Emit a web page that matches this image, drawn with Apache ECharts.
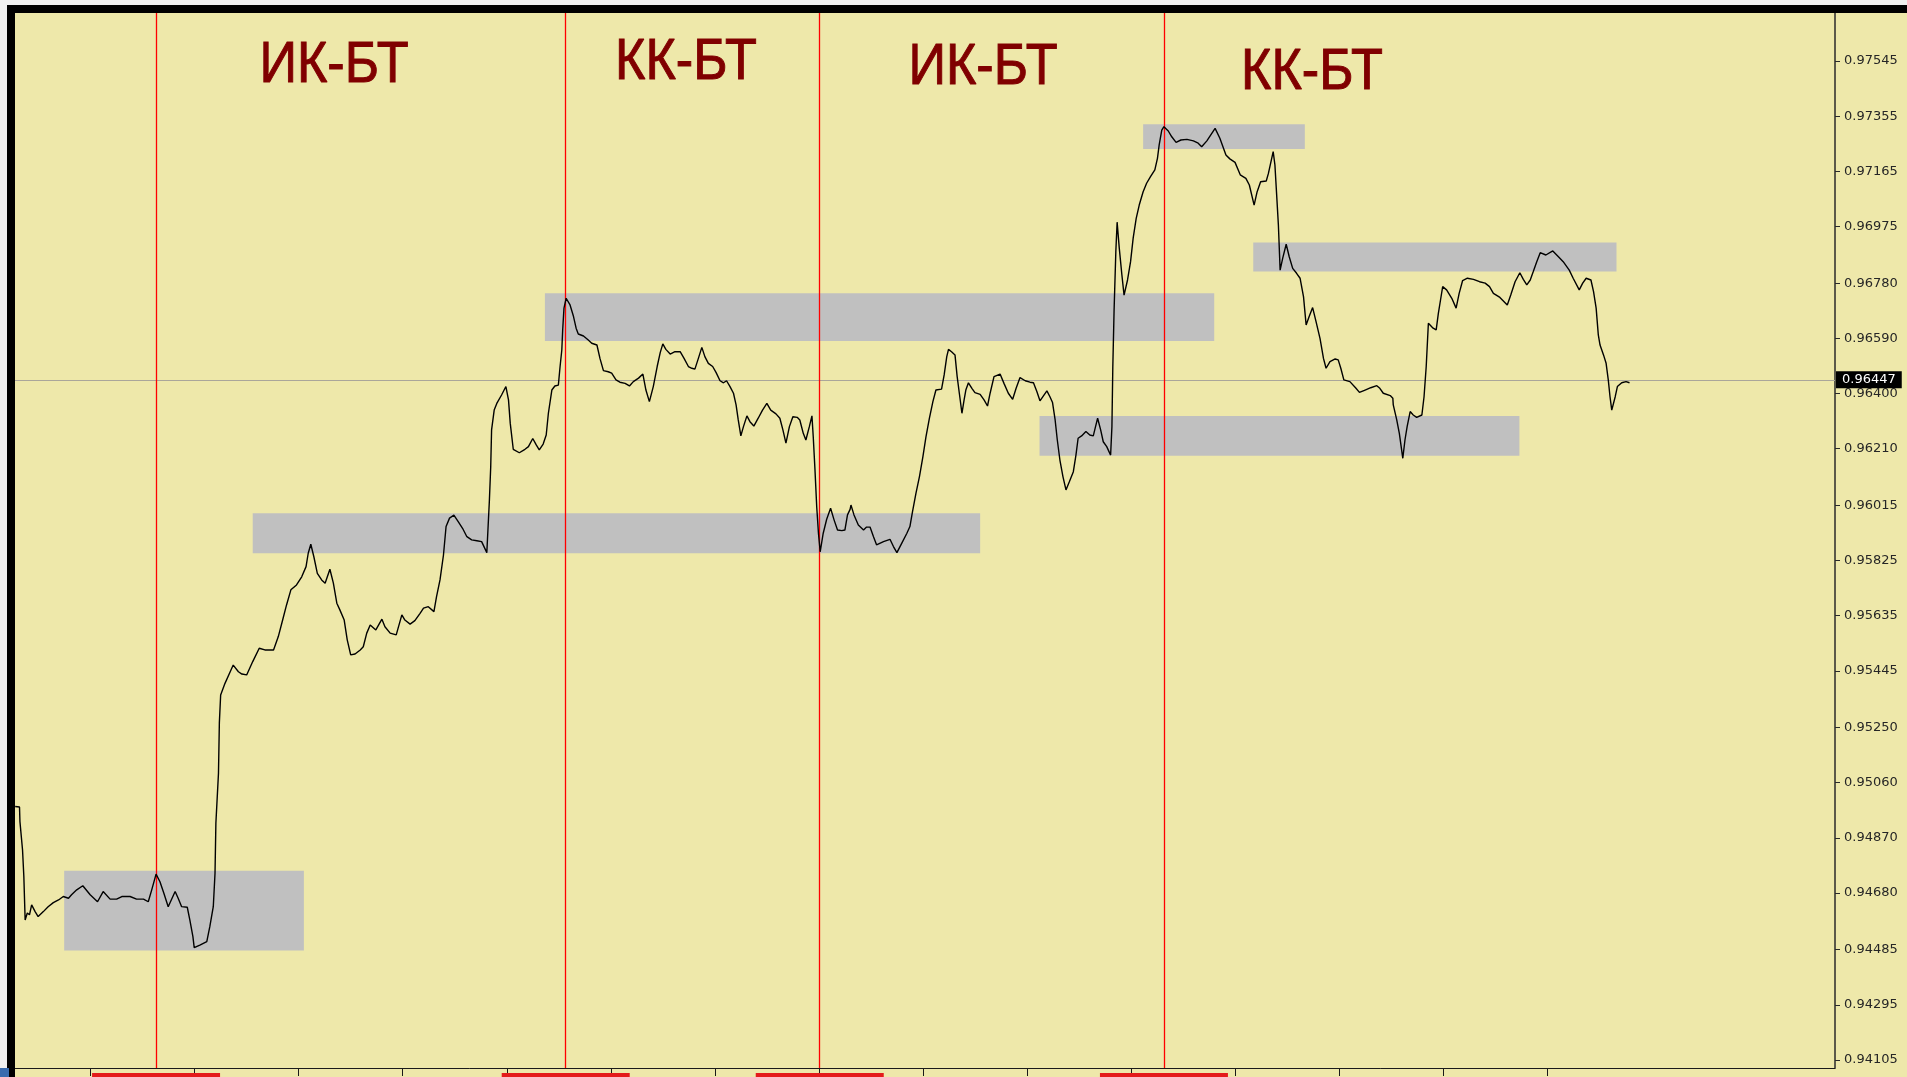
<!DOCTYPE html>
<html><head><meta charset="utf-8">
<script src="https://cdn.jsdelivr.net/npm/echarts@6/dist/echarts.min.js"></script>
<style>html,body{margin:0;padding:0;background:#EEE8AA;overflow:hidden}#c{width:1907px;height:1077px}</style>
</head><body><div id="c"></div>
<script>
// ---- data (hourly bar index, close price) ----
const barIndex = [6.6,7.6,7.7,8.3,8.6,8.9,9.4,9.9,10.4,11.2,11.9,13.1,14.2,15.4,16.6,17.7,18.9,19.6,20.8,22.2,
23.9,25.6,26.9,28.5,30.0,31.2,33.1,34.6,36.2,37.3,38.1,39.1,40.0,40.9,41.9,43.5,44.2,45.0,46.3,46.9,
47.6,47.9,49.2,50.8,51.5,52.3,52.7,52.9,53.5,53.7,54.0,55.0,56.2,56.9,58.1,58.9,60.0,61.4,62.9,64.2,
66.2,67.3,68.3,69.2,70.2,71.5,72.7,73.7,74.2,74.8,75.5,76.3,77.3,78.1,79.2,80.0,80.8,81.5,82.5,83.2,
84.0,85.0,86.2,86.9,87.7,88.5,89.8,91.2,91.9,93.1,94.5,95.8,96.5,97.7,98.8,100.0,100.8,101.9,103.2,103.8,
104.6,105.4,106.0,106.8,107.8,108.8,109.8,110.8,111.9,113.1,114.2,115.4,116.0,116.3,116.5,117.1,117.7,118.8,119.8,120.4,
120.8,121.5,122.9,124.2,125.0,126.0,126.8,127.5,128.4,129.1,129.6,130.4,131.1,131.9,132.3,132.7,132.9,133.2,133.7,134.6,
135.4,136.0,136.5,137.7,138.8,139.6,140.8,141.5,142.3,143.4,144.2,145.2,146.1,147.3,148.3,149.2,150.4,151.4,152.1,152.9,
153.8,154.7,155.4,156.0,156.7,157.7,158.8,160.0,160.9,161.9,162.7,163.4,164.2,165.0,165.7,166.5,167.5,168.3,169.2,170.0,
170.7,171.5,172.3,172.9,173.4,174.0,174.6,175.4,176.1,177.0,178.0,179.0,180.0,180.9,182.1,183.0,183.7,184.4,185.2,186.0,
187.0,187.6,188.4,189.0,189.8,190.4,190.7,191.1,191.5,191.9,192.3,193.0,193.8,194.7,195.5,196.3,197.3,198.0,198.6,199.2,
199.4,200.1,201.1,202.3,203.0,203.8,204.6,205.3,206.9,208.4,209.2,210.0,211.1,212.3,213.0,213.6,214.4,215.2,216.0,216.7,
217.5,218.3,219.0,220.3,220.9,221.5,221.9,222.6,223.4,223.9,224.4,225.0,225.5,225.9,226.5,227.3,228.0,229.2,230.1,230.9,
231.5,232.4,233.8,234.7,235.7,236.7,237.5,238.4,239.6,240.7,241.5,242.3,243.0,243.8,244.6,245.3,245.9,246.5,247.0,247.6,
248.3,249.0,249.8,250.7,251.3,251.8,252.6,253.6,254.5,255.3,256.3,257.0,257.6,258.4,259.3,259.6,259.8,260.1,260.5,260.8,
261.3,261.9,262.4,263.2,263.9,264.5,265.2,265.9,266.8,267.6,268.5,269.5,270.1,270.5,271.1,271.6,272.6,273.4,274.4,275.5,
276.9,278.4,279.5,280.3,281.5,283.4,284.5,285.9,286.8,288.0,289.2,290.5,291.3,292.4,293.1,293.9,295.2,295.7,296.8,297.2,
297.6,298.0,298.4,299.0,299.8,300.5,301.3,302.2,303.0,303.8,304.4,305.1,305.9,306.7,307.6,308.4,309.0,309.9,311.1,311.8,
312.4,313.1,314.5,315.9,316.7,318.0,319.3,320.7,321.4,322.2,323.8,324.4,324.5,325.3,325.9,326.7,327.2,327.7,328.4,329.1,
329.9,331.1,331.6,332.1,332.6,333.0,333.7,334.4,334.9,335.4,335.9,336.8,338.0,339.0,339.7,340.5,341.6,343.0,344.4,345.7,
346.7,347.6,349.1,350.8,351.6,352.6,353.7,354.5,355.3,356.1,356.8,357.6,358.4,359.7,361.3,362.6,363.7,365.1,366.0,367.4,
368.2,369.0,370.1,370.7,371.3,371.8,372.2,373.0,373.6,374.1,374.5,374.9,375.7,376.2,377.2,378.2,379.0];

const closePrice = [0.94978,0.94976,0.94926,0.94828,0.94737,0.94587,0.94611,0.94605,0.94639,0.94616,0.94599,0.94616,0.94633,0.94647,0.94656,0.94668,0.94662,0.94674,0.94691,0.94705,
0.94674,0.94650,0.94685,0.94659,0.94659,0.94668,0.94668,0.94659,0.94659,0.94650,0.94691,0.94745,0.94719,0.94679,0.94633,0.94685,0.94662,0.94633,0.94631,0.94587,
0.94530,0.94492,0.94501,0.94513,0.94564,0.94633,0.94748,0.94920,0.95093,0.95265,0.95362,0.95402,0.95442,0.95465,0.95442,0.95434,0.95431,0.95477,0.95523,0.95517,
0.95517,0.95563,0.95620,0.95672,0.95724,0.95741,0.95769,0.95804,0.95850,0.95881,0.95838,0.95781,0.95758,0.95747,0.95795,0.95747,0.95678,0.95655,0.95620,0.95552,
0.95500,0.95503,0.95517,0.95528,0.95575,0.95603,0.95586,0.95623,0.95597,0.95575,0.95569,0.95638,0.95620,0.95606,0.95618,0.95643,0.95661,0.95666,0.95649,0.95701,
0.95758,0.95844,0.95942,0.95971,0.95981,0.95959,0.95936,0.95907,0.95896,0.95893,0.95890,0.95852,0.96034,0.96148,0.96275,0.96343,0.96366,0.96395,0.96424,0.96378,
0.96298,0.96208,0.96196,0.96208,0.96217,0.96245,0.96223,0.96206,0.96226,0.96257,0.96332,0.96412,0.96426,0.96429,0.96493,0.96550,0.96619,0.96694,0.96728,0.96705,
0.96665,0.96625,0.96605,0.96598,0.96584,0.96573,0.96567,0.96521,0.96479,0.96475,0.96470,0.96447,0.96439,0.96435,0.96426,0.96441,0.96453,0.96467,0.96412,0.96372,
0.96424,0.96493,0.96541,0.96571,0.96552,0.96536,0.96544,0.96544,0.96521,0.96493,0.96487,0.96484,0.96521,0.96559,0.96527,0.96504,0.96493,0.96472,0.96444,0.96437,
0.96444,0.96424,0.96401,0.96361,0.96309,0.96254,0.96286,0.96323,0.96303,0.96288,0.96315,0.96343,0.96366,0.96343,0.96330,0.96315,0.96275,0.96229,0.96286,0.96320,
0.96318,0.96309,0.96263,0.96240,0.96286,0.96323,0.96251,0.96137,0.96010,0.95919,0.95855,0.95919,0.95967,0.96005,0.95965,0.95930,0.95928,0.95930,0.95982,0.96001,
0.96016,0.95982,0.95947,0.95930,0.95940,0.95940,0.95907,0.95879,0.95890,0.95898,0.95873,0.95852,0.95884,0.95919,0.95942,0.95993,0.96057,0.96114,0.96183,0.96251,
0.96315,0.96372,0.96412,0.96415,0.96464,0.96527,0.96552,0.96544,0.96533,0.96458,0.96401,0.96332,0.96378,0.96412,0.96437,0.96418,0.96403,0.96397,0.96378,0.96357,
0.96401,0.96458,0.96467,0.96435,0.96401,0.96380,0.96418,0.96455,0.96444,0.96439,0.96437,0.96406,0.96375,0.96392,0.96409,0.96389,0.96369,0.96309,0.96240,0.96171,
0.96114,0.96068,0.96097,0.96131,0.96188,0.96246,0.96254,0.96269,0.96257,0.96254,0.96315,0.96275,0.96234,0.96217,0.96188,0.96286,0.96487,0.96688,0.96888,0.96990,
0.96900,0.96808,0.96739,0.96791,0.96854,0.96935,0.97003,0.97049,0.97095,0.97124,0.97147,0.97170,0.97210,0.97256,0.97307,0.97319,0.97304,0.97284,0.97265,0.97273,
0.97275,0.97270,0.97262,0.97250,0.97270,0.97313,0.97279,0.97221,0.97208,0.97196,0.97153,0.97141,0.97118,0.97049,0.97095,0.97129,0.97132,0.97158,0.97233,0.97187,
0.97084,0.96980,0.96825,0.96866,0.96914,0.96871,0.96831,0.96814,0.96797,0.96733,0.96636,0.96665,0.96696,0.96647,0.96590,0.96521,0.96487,0.96510,0.96519,0.96516,
0.96487,0.96447,0.96441,0.96418,0.96404,0.96412,0.96420,0.96427,0.96418,0.96401,0.96393,0.96384,0.96361,0.96309,0.96263,0.96177,0.96240,0.96286,0.96338,0.96326,
0.96318,0.96326,0.96389,0.96493,0.96642,0.96647,0.96625,0.96619,0.96676,0.96722,0.96768,0.96757,0.96728,0.96694,0.96745,0.96789,0.96797,0.96793,0.96785,0.96780,
0.96768,0.96745,0.96731,0.96705,0.96739,0.96785,0.96816,0.96793,0.96774,0.96791,0.96820,0.96854,0.96885,0.96877,0.96891,0.96871,0.96854,0.96825,0.96797,0.96757,
0.96780,0.96797,0.96791,0.96751,0.96694,0.96602,0.96567,0.96533,0.96504,0.96447,0.96389,0.96343,0.96389,0.96424,0.96437,0.96441,0.96437];

// grey zones (support / resistance boxes)
const zoneStart  = [17.9, 61.4, 128.8, 242.9, 266.8, 292.2];
const zoneEnd    = [73.2, 229.2, 283.2, 353.6, 304.1, 376.0];
const zoneTop    = [0.94757, 0.95988, 0.96745, 0.96323, 0.97327, 0.96920];
const zoneBottom = [0.94482, 0.95850, 0.96581, 0.96186, 0.97242, 0.96820];

// red vertical separators and the phase labels
const separatorX  = [39.1, 133.6, 192.2, 271.6];
const phaseLabels = ['ИК-БТ', 'КК-БТ', 'ИК-БТ', 'КК-БТ'];

// axis ticks
const priceTicks = [0.97545,0.97355,0.97165,0.96975,0.96780,0.96590,0.96400,0.96210,0.96015,0.95825,
                    0.95635,0.95445,0.95250,0.95060,0.94870,0.94680,0.94485,0.94295,0.94105];
const timeTicks = [24,48,72,96,120,144,168,192,216,240,264,288,312,336,360];
const bidPrice = 0.96447;

// ---- chart ----
const chart = echarts.init(document.getElementById('c'), null, {renderer:'canvas', width:1907, height:1077});
const yMin = 0.940775, yMax = 0.977103;

chart.setOption({
  animation: false,
  backgroundColor: '#EEE8AA',
  grid: {left: 15, right: 72, top: 13, bottom: 9},
  xAxis: {
    type: 'value', min: 6.56, max: 426.4,
    splitLine: {show: false},
    axisLine: {show: true, onZero: false, lineStyle: {color: '#1a1a1a', width: 1}},
    axisTick: {show: true, inside: false, length: 8, customValues: timeTicks, lineStyle: {color: '#1a1a1a'}},
    axisLabel: {show: false}
  },
  yAxis: {
    type: 'value', position: 'right', min: yMin, max: yMax, scale: true,
    splitLine: {show: false},
    axisLine: {show: true, lineStyle: {color: '#2a2a2a', width: 1.5}},
    axisTick: {show: true, inside: false, length: 5, customValues: priceTicks, lineStyle: {color: '#2a2a2a'}},
    axisLabel: {show: true, customValues: priceTicks, margin: 9, color: '#262626',
      fontFamily: 'DejaVu Sans', fontSize: 13, formatter: v => v.toFixed(5)}
  },
  series: [
    {
      name: 'markers', type: 'line', data: [], z: 1, silent: true,
      markArea: {
        silent: true,
        itemStyle: {color: '#C0C0C0', opacity: 1},
        data: zoneStart.map((s, i) => [
          {xAxis: s, yAxis: zoneTop[i]},
          {xAxis: zoneEnd[i], yAxis: zoneBottom[i]}
        ])
      },
      markLine: {
        silent: true, symbol: ['none', 'none'], animation: false, precision: 5,
        data: [
          {yAxis: bidPrice, lineStyle: {color: '#aaa69a', width: 1, type: 'solid'},
           label: {show: true, position: 'end', distance: 1, formatter: p => Number(p.value).toFixed(5),
                   backgroundColor: '#000', color: '#fff', padding: [2, 6, 2, 6],
                   fontFamily: 'DejaVu Sans', fontSize: 13}}
        ].concat(separatorX.map(x => ({
          xAxis: x, lineStyle: {color: '#ff0000', width: 1.3, type: 'solid'}, label: {show: false}
        })))
      }
    },
    {
      name: 'close', type: 'line', z: 10,
      data: barIndex.map((x, i) => [x, closePrice[i]]),
      showSymbol: false, symbol: 'none',
      lineStyle: {color: '#000', width: 1.4},
      clip: true
    }
  ]
});

// ---- decorations positioned from the scales ----
const sepPx = separatorX.map(x => chart.convertToPixel({gridIndex: 0}, [x, yMin])[0]);
const labelCenters = [334, 686, 983, 1312];
const labelMiddles = [66, 63, 68, 73];
const elements = [
  {type: 'rect', shape: {x: 0, y: 0, width: 1907, height: 5}, style: {fill: '#f0f0f0'}, z: 100},
  {type: 'rect', shape: {x: 0, y: 5, width: 1907, height: 8}, style: {fill: '#000'}, z: 100},
  {type: 'rect', shape: {x: 0, y: 0, width: 7, height: 1077}, style: {fill: '#f0f0f0'}, z: 100},
  {type: 'rect', shape: {x: 7, y: 5, width: 8, height: 1072}, style: {fill: '#000'}, z: 100},
  {type: 'rect', shape: {x: 0, y: 1068, width: 9, height: 9}, style: {fill: '#3a6cae'}, z: 101}
];
sepPx.forEach(px => {
  elements.push({type: 'rect', shape: {x: px - 64, y: 1073, width: 128, height: 4}, style: {fill: '#e41b1b'}, z: 50});
});
phaseLabels.forEach((t, i) => {
  elements.push({
    type: 'text', x: labelCenters[i], y: labelMiddles[i], scaleX: 0.9, z: 60,
    style: {text: t, font: '58px "Liberation Sans", Arial, sans-serif', fill: '#800000',
            stroke: '#800000', lineWidth: 1,
            align: 'center', verticalAlign: 'middle', textAlign: 'center', textVerticalAlign: 'middle'}
  });
});
chart.setOption({graphic: {elements: elements}});
</script>
</body></html>
